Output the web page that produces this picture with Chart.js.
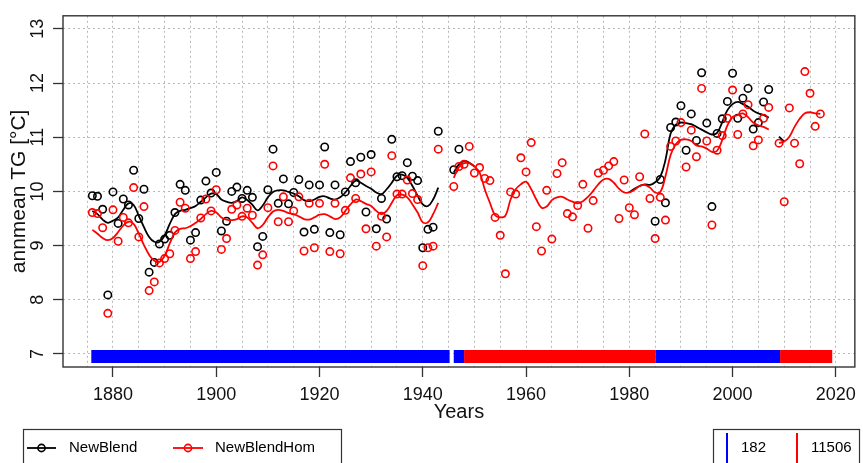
<!DOCTYPE html>
<html><head><meta charset="utf-8">
<script src="https://cdn.jsdelivr.net/npm/chart.js@4.4.1/dist/chart.umd.min.js"></script>
<style>html,body{margin:0;padding:0;background:#fff}canvas{display:block}</style>
</head><body>
<canvas id="c" width="863" height="463"></canvas>
<script>
// ---------- data ----------
const firstYear = 1876;
const newBlend = [
  9.92, 9.91, 9.67, 8.09, 9.99, 9.41, 9.86, 9.75, 10.39, 9.50,      // 1876-1885
  10.04, 8.51, 8.69, 9.03, 9.12, 9.19, 9.61, 10.13, 10.02, 9.10,    // 1886-1895
  9.24, 9.84, 10.19, 9.97, 10.35, 9.27, 9.45, 10.00, 10.08, 9.87,   // 1896-1905
  10.02, 9.89, 8.98, 9.17, 10.03, 10.78, 9.78, 10.23, 9.77, 9.98,   // 1906-1915
  10.22, 9.25, 10.12, 9.30, 10.12, 10.82, 9.24, 10.12, 9.20, 9.99,  // 1916-1925
  10.55, 10.16, 10.63, 9.62, 10.68, 9.31, 9.87, 9.49, 10.96, 10.27, // 1926-1935
  10.29, 10.53, 10.28, 10.20, 8.96, 9.30, 9.34, 11.11, null, null,  // 1936-1945
  10.40, 10.78, null, null, null, null, null, null, null, null,     // 1946-1955
  null, null, null, null, null, null, null, null, null, null,       // 1956-1965
  null, null, null, null, null, null, null, null, null, null,       // 1966-1975
  null, null, null, null, null, null, null, null, null, 9.45,       // 1976-1985
  10.22, 9.79, 11.18, 11.28, 11.58, 10.76, 11.43, 10.94, 12.19, 11.26, // 1986-1995
  9.72, 11.07, 11.34, 11.66, 12.18, 11.35, 11.72, 11.90, 11.15, 11.27, // 1996-2005
  11.65, 11.88, null, null, null, null, null, null, null, null,     // 2006-2015
  null, null                                                        // 2016-2017
];
const newBlendHom = [
  9.61, 9.59, 9.33, 7.75, 9.66, 9.08, 9.52, 9.42, 10.07, 9.16,      // 1876-1885
  9.72, 8.17, 8.33, 8.68, 8.76, 8.85, 9.28, 9.80, 9.69, 8.76,       // 1886-1895
  8.89, 9.51, 9.86, 9.64, 10.03, 8.93, 9.13, 9.67, 9.75, 9.54,      // 1896-1905
  9.69, 9.56, 8.64, 8.83, 9.70, 10.47, 9.44, 9.90, 9.44, 9.64,      // 1906-1915
  9.90, 8.90, 9.78, 8.96, 9.78, 10.50, 8.89, 9.78, 8.85, 9.65,      // 1916-1925
  10.25, 9.87, 10.32, 9.31, 10.36, 8.99, 9.54, 9.16, 10.66, 9.95,   // 1926-1935
  9.95, 10.21, 9.96, 9.85, 8.63, 8.96, 8.99, 10.78, null, null,     // 1936-1945
  10.09, 10.46, 10.50, 10.83, 10.34, 10.44, 10.24, 10.20, 9.52, 9.19, // 1946-1955
  8.48, 9.99, 9.95, 10.62, 10.36, 10.90, 9.35, 8.90, 10.02, 9.12,   // 1956-1965
  10.33, 10.53, 9.59, 9.53, 9.74, 10.13, 9.32, 9.83, 10.34, 10.39,  // 1966-1975
  10.47, 10.55, 9.50, 10.21, 9.70, 9.57, 10.27, 11.06, 9.87, 9.13,  // 1976-1985
  9.89, 9.47, 10.83, 10.93, 11.27, 10.45, 11.13, 10.64, 11.90, 10.93, // 1986-1995
  9.38, 10.76, 11.03, 11.35, 11.87, 11.05, 11.43, 11.60, 10.84, 10.95, // 1996-2005
  11.35, 11.55, null, 10.89, 9.81, 11.54, 10.89, 10.51, 12.21, 11.81, // 2006-2015
  11.20, 11.43                                                      // 2016-2017
];
const newBlendSmooth = [
  9.64, 9.58, 9.48, 9.42, 9.46, 9.52, 9.66, 9.78, 9.75, 9.55,       // 1876-1885
  9.34, 9.16, 9.07, 9.07, 9.19, 9.40, 9.58, 9.64, 9.66, 9.69,       // 1886-1895
  9.73, 9.81, 9.89, 9.96, 9.95, 9.85, 9.81, 9.79, 9.82, 9.89,       // 1896-1905
  9.84, 9.75, 9.65, 9.74, 9.89, 9.99, 10.02, 10.02, 9.99, 9.96,     // 1906-1915
  9.91, 9.84, 9.82, 9.85, 9.90, 9.91, 9.87, 9.85, 9.89, 9.98,       // 1916-1925
  10.10, 10.20, 10.16, 10.10, 10.05, 9.98, 9.95, 10.04, 10.16, 10.29, // 1926-1935
  10.31, 10.25, 10.10, 9.92, 9.76, 9.73, 9.85, 10.07, null, null,   // 1936-1945
  10.35, 10.50, 10.56, 10.53, 10.46, null, null, null, null, null,  // 1946-1955
  null, null, null, null, null, null, null, null, null, null,       // 1956-1965
  null, null, null, null, null, null, null, null, null, null,       // 1966-1975
  null, null, null, null, 9.98, 10.05, 10.10, 10.13, 10.12, 10.17,  // 1976-1985
  10.27, 10.58, 11.07, 11.23, 11.27, 11.26, 11.24, 11.19, 11.14, 11.09, // 1986-1995
  11.05, 11.08, 11.28, 11.50, 11.61, 11.65, 11.61, 11.56, 11.49, 11.44, // 1996-2005
  11.41, 11.36, null, 11.01, 10.92, null, null, null, null, null,   // 2006-2015
  null, null                                                        // 2016-2017
];
const newBlendHomSmooth = [
  9.29, 9.22, 9.14, 9.10, 9.14, 9.25, 9.37, 9.44, 9.40, 9.22,       // 1876-1885
  9.01, 8.83, 8.72, 8.70, 8.81, 9.04, 9.24, 9.31, 9.32, 9.36,       // 1886-1895
  9.42, 9.49, 9.58, 9.64, 9.61, 9.52, 9.48, 9.47, 9.49, 9.54,       // 1896-1905
  9.52, 9.42, 9.32, 9.38, 9.52, 9.63, 9.66, 9.64, 9.60, 9.58,       // 1906-1915
  9.54, 9.49, 9.48, 9.52, 9.57, 9.58, 9.54, 9.49, 9.52, 9.64,       // 1916-1925
  9.76, 9.85, 9.82, 9.77, 9.73, 9.64, 9.58, 9.64, 9.79, 9.93,       // 1926-1935
  9.94, 9.89, 9.76, 9.61, 9.43, 9.43, 9.58, 9.79, null, null,       // 1936-1945
  10.25, 10.45, 10.52, 10.52, 10.46, 10.35, 10.04, 9.79, 9.56, 9.52, // 1946-1955
  9.55, 9.85, 10.04, 10.13, 10.18, 10.04, 9.85, 9.70, 9.72, 9.84,   // 1956-1965
  9.89, 9.90, 9.85, 9.81, 9.78, 9.82, 9.90, 10.01, 10.13, 10.22,    // 1966-1975
  10.23, 10.16, 10.05, 9.98, 9.98, 10.03, 10.10, 10.12, 10.07, 9.98, // 1976-1985
  9.99, 10.28, 10.67, 10.87, 10.95, 10.96, 10.93, 10.85, 10.83, 10.79, // 1986-1995
  10.73, 10.75, 10.95, 11.22, 11.37, 11.41, 11.44, 11.37, 11.27, 11.22, // 1996-2005
  11.19, 11.14, null, 10.89, 10.92, 11.01, 11.19, 11.34, 11.44, 11.46, // 2006-2015
  11.44, 11.43                                                      // 2016-2017
];
// station bar along the bottom
const stationFrom = [1875.8, 1946.0, 1948.0, 1985.05, 2009.2];
const stationTo   = [1945.2, 1948.0, 1985.05, 2009.2, 2019.3];
const stationId   = [182, 182, 11506, 182, 11506];
const stationLevel = 6.955;
const stationIds = [182, 11506];
// axes
const xGridYears = [1875,1880,1885,1890,1895,1900,1905,1910,1915,1920,1925,1930,1935,1940,1945,1950,1955,1960,1965,1970,1975,1980,1985,1990,1995,2000,2005,2010,2015,2020];
const xTickLabels = [1880, 1900, 1920, 1940, 1960, 1980, 2000, 2020];
const yTicks = [7, 8, 9, 10, 11, 12, 13];
const seriesNames = ['NewBlend', 'NewBlendHom'];

// ---------- styles ----------
const BLACK = '#000000', RED = '#ff0000', BLUE = '#0000ff';
const stationColor = {182: BLUE, 11506: RED};
const FONT = '"Liberation Sans", Arial, Helvetica, sans-serif';

const toXY = arr => arr.map((v, i) => ({x: firstYear + i, y: v}));

const pointDs = (label, arr, color, order) => ({
  label, data: toXY(arr), showLine: false, order,
  pointStyle: 'circle', pointRadius: 3.7, pointBorderWidth: 1.6,
  pointBorderColor: color, pointBackgroundColor: 'rgba(0,0,0,0)', borderColor: color
});
const lineDs = (label, arr, color, order) => ({
  label, data: toXY(arr), order, borderColor: color, borderWidth: 1.8,
  pointRadius: 0, tension: 0.4, spanGaps: false, fill: false
});

const datasets = [
  pointDs(seriesNames[1], newBlendHom, RED, 0),
  lineDs(seriesNames[1] + ' smooth', newBlendHomSmooth, RED, 1),
  pointDs(seriesNames[0], newBlend, BLACK, 2),
  lineDs(seriesNames[0] + ' smooth', newBlendSmooth, BLACK, 3)
];
stationFrom.forEach((f, i) => datasets.push({
  label: 'station ' + stationId[i],
  data: [{x: f, y: stationLevel}, {x: stationTo[i], y: stationLevel}],
  borderColor: stationColor[stationId[i]], borderWidth: 13, borderCapStyle: 'butt',
  pointRadius: 0, order: 10, tension: 0
}));

const frame = {
  id: 'frame',
  afterDatasetsDraw(chart) {
    const {ctx, chartArea: a} = chart;
    ctx.save();
    ctx.strokeStyle = '#333'; ctx.lineWidth = 1.4;
    ctx.strokeRect(a.left, a.top, a.right - a.left, a.bottom - a.top);
    ctx.restore();
  },
  afterDraw(chart) {
    const ctx = chart.ctx;
    ctx.save();
    ctx.strokeStyle = '#333'; ctx.lineWidth = 1.2;
    // left legend box
    ctx.strokeRect(23.5, 429.5, 318, 60);
    // right legend box
    ctx.strokeRect(713.5, 429.5, 146, 60);
    ctx.font = '15px ' + FONT; ctx.textBaseline = 'middle'; ctx.fillStyle = '#000';
    const ly = 448;
    const items = [{c: BLACK, x0: 27, x1: 56, tx: 69, t: seriesNames[0]},
                   {c: RED, x0: 173, x1: 203, tx: 215, t: seriesNames[1]}];
    items.forEach(it => {
      ctx.strokeStyle = it.c; ctx.lineWidth = 1.8;
      ctx.beginPath(); ctx.moveTo(it.x0, ly); ctx.lineTo(it.x1, ly); ctx.stroke();
      ctx.lineWidth = 1.6;
      ctx.beginPath(); ctx.arc((it.x0 + it.x1) / 2, ly, 3.6, 0, Math.PI * 2); ctx.stroke();
      ctx.fillText(it.t, it.tx, ly);
    });
    const st = [{x: 727, tx: 741}, {x: 797, tx: 811}];
    stationIds.forEach((id, i) => {
      ctx.strokeStyle = stationColor[id]; ctx.lineWidth = 2;
      ctx.beginPath(); ctx.moveTo(st[i].x, 433); ctx.lineTo(st[i].x, 463); ctx.stroke();
      ctx.fillText(String(id), st[i].tx, ly);
    });
    ctx.restore();
  }
};

new Chart(document.getElementById('c'), {
  type: 'line',
  data: {datasets},
  options: {
    responsive: false, animation: false, events: [],
    layout: {padding: {top: 11, right: 2.5, bottom: 0, left: 0}},
    plugins: {legend: {display: false}, tooltip: {enabled: false}},
    scales: {
      x: {
        type: 'linear', min: 1870.32, max: 2023.68,
        afterBuildTicks: s => { s.ticks = xGridYears.map(v => ({value: v})); },
        afterFit: s => { s.height = 96; },
        border: {display: false, dash: [2, 3]},
        grid: {color: '#b8b8b8', lineWidth: 1, drawTicks: true, tickLength: 10,
               tickColor: c => (c.tick && xTickLabels.includes(c.tick.value)) ? '#333' : 'rgba(0,0,0,0)',
               tickWidth: 1.3},
        ticks: {autoSkip: false, maxRotation: 0, minRotation: 0, padding: 7, color: '#111',
                font: {family: FONT, size: 18},
                callback: v => xTickLabels.includes(v) ? String(v) : ''},
        title: {display: true, text: 'Years', color: '#111', font: {family: FONT, size: 20},
                padding: {top: 0, bottom: 39}}
      },
      y: {
        type: 'linear', min: 6.76, max: 13.24,
        afterBuildTicks: s => { s.ticks = yTicks.map(v => ({value: v})); },
        afterFit: s => { s.width = 63; },
        border: {display: false, dash: [2, 3]},
        grid: {color: '#b8b8b8', lineWidth: 1, drawTicks: true, tickLength: 10,
               tickColor: '#333', tickWidth: 1.3},
        ticks: {autoSkip: false, minRotation: 90, maxRotation: 90, crossAlign: 'center',
                padding: 5, color: '#111', font: {family: FONT, size: 18},
                callback: v => String(v)},
        title: {display: true, text: 'annmean TG [°C]', color: '#111',
                font: {family: FONT, size: 21}, padding: {top: 7, bottom: 0}}
      }
    }
  },
  plugins: [frame]
});
</script>
</body></html>
